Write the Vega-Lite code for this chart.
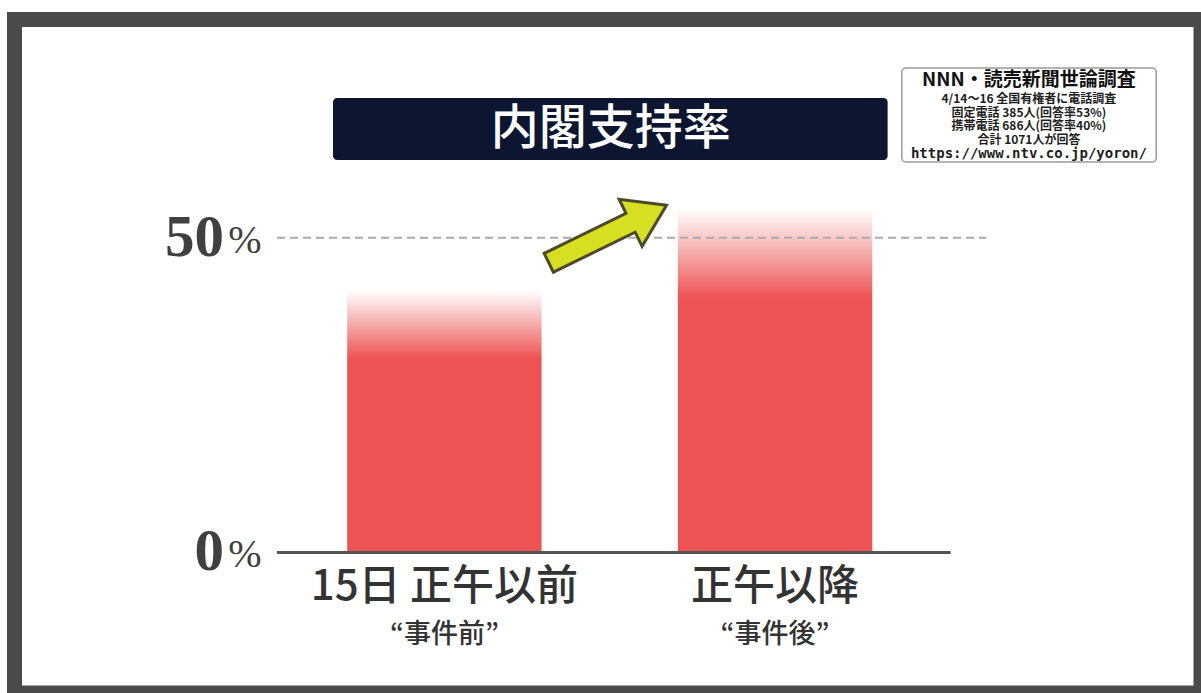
{
  "$schema": "https://vega.github.io/schema/vega-lite/v6.json",
  "autosize": {"type": "none"},
  "padding": {"left": 14.5, "top": 19.5, "right": 0, "bottom": 0},
  "width": 1186.5,
  "height": 673.5,
  "background": "#ffffff",
  "config": {
    "view": {"stroke": "#4a4a4a", "strokeWidth": 15, "fill": "#ffffff"},
    "text": {"font": "Noto Sans CJK JP"}
  },
  "datasets": {
    "poll": [
      {"period": "15日 正午以前", "note": "“事件前”", "rate": 41.7},
      {"period": "正午以降", "note": "“事件後”", "rate": 54.7}
    ],
    "ticks": [
      {"v": 0, "n": "0"},
      {"v": 50, "n": "50"}
    ],
    "span": [
      {"from": "15日 正午以前", "to": "正午以降"}
    ]
  },
  "layer": [
    {
      "data": {"name": "poll"},
      "mark": {
        "type": "bar",
        "color": {
          "gradient": "linear",
          "x1": 0, "y1": 0, "x2": 0, "y2": 1,
          "stops": [
            {"offset": 0, "color": "#ffffff"},
            {"offset": 0.05, "color": "#fbe1e0"},
            {"offset": 0.15, "color": "#f49e9d"},
            {"offset": 0.26, "color": "#ee5353"},
            {"offset": 1, "color": "#ee5353"}
          ]
        }
      },
      "encoding": {
        "x": {
          "field": "period",
          "type": "nominal",
          "sort": null,
          "scale": {
            "domain": ["15日 正午以前", "正午以降"],
            "paddingInner": 0.4123,
            "paddingOuter": 1.0315,
            "align": 0.503
          },
          "axis": {
            "orient": "bottom",
            "offset": -140.5,
            "title": null,
            "domain": false,
            "ticks": false,
            "grid": false,
            "labelAngle": 0,
            "labelPadding": 14,
            "labelLimit": 0,
            "labelFont": "Noto Sans CJK JP",
            "labelFontSize": 42,
            "labelFontWeight": 500,
            "labelColor": "#333333"
          }
        },
        "y": {
          "field": "rate",
          "type": "quantitative",
          "scale": {"domain": [-22.32, 84.66], "nice": false, "zero": false},
          "axis": null
        }
      }
    },
    {
      "data": {"name": "span"},
      "mark": {"type": "rule", "color": "#aaaaaa", "strokeWidth": 2, "strokeDash": [8, 5]},
      "encoding": {
        "x": {"field": "from", "type": "nominal", "bandPosition": -0.361},
        "x2": {"field": "to", "bandPosition": 1.586},
        "y": {"datum": 50}
      }
    },
    {
      "data": {"name": "span"},
      "mark": {"type": "rule", "color": "#555555", "strokeWidth": 3},
      "encoding": {
        "x": {"field": "from", "type": "nominal", "bandPosition": -0.361},
        "x2": {"field": "to", "bandPosition": 1.403},
        "y": {"datum": 0}
      }
    },
    {
      "data": {"name": "span"},
      "mark": {"type": "rect", "color": "#0c1630", "cornerRadius": 4},
      "encoding": {
        "x": {"field": "from", "type": "nominal", "bandPosition": -0.073},
        "x2": {"field": "to", "bandPosition": 1.079},
        "y": {"datum": 72.19},
        "y2": {"datum": 62.34}
      }
    },
    {
      "data": {"values": [{"from": "15日 正午以前", "t": "内閣支持率"}]},
      "mark": {"type": "text", "color": "#ffffff", "fontSize": 48, "fontWeight": 500, "align": "center", "baseline": "middle"},
      "encoding": {
        "x": {"field": "from", "type": "nominal", "bandPosition": 1.356},
        "y": {"datum": 67.1},
        "text": {"field": "t"}
      }
    },
    {
      "data": {"values": [{"at": "正午以降"}]},
      "mark": {"type": "rect", "fill": "#ffffff", "stroke": "#9a9a9a", "strokeWidth": 1.5, "cornerRadius": 4},
      "encoding": {
        "x": {"field": "at", "type": "nominal", "bandPosition": 1.152},
        "x2": {"field": "at", "bandPosition": 2.461},
        "y": {"datum": 76.95},
        "y2": {"datum": 62.03}
      }
    },
    {
      "data": {"values": [{"at": "正午以降", "t": "NNN・読売新聞世論調査"}]},
      "mark": {"type": "text", "color": "#111111", "fontSize": 19, "fontWeight": "bold", "align": "center", "baseline": "middle"},
      "encoding": {
        "x": {"field": "at", "type": "nominal", "bandPosition": 1.806},
        "y": {"datum": 75.1},
        "text": {"field": "t"}
      }
    },
    {
      "data": {"values": [{"at": "正午以降", "t": "4/14〜16  全国有権者に電話調査\n固定電話  385人(回答率53%)\n携帯電話  686人(回答率40%)\n合計    1071人が回答"}]},
      "mark": {"type": "text", "color": "#1e1e1e", "fontSize": 12, "fontWeight": "bold", "lineBreak": "\n", "lineHeight": 13.5, "align": "center", "baseline": "middle"},
      "encoding": {
        "x": {"field": "at", "type": "nominal", "bandPosition": 1.806},
        "y": {"datum": 72.0},
        "text": {"field": "t"}
      }
    },
    {
      "data": {"values": [{"at": "正午以降", "t": "https://www.ntv.co.jp/yoron/"}]},
      "mark": {"type": "text", "color": "#1e1e1e", "font": "DejaVu Sans Mono", "fontSize": 14, "fontWeight": "bold", "align": "center", "baseline": "middle"},
      "encoding": {
        "x": {"field": "at", "type": "nominal", "bandPosition": 1.806},
        "y": {"datum": 63.3},
        "text": {"field": "t"}
      }
    },
    {
      "data": {"values": [{"at": "15日 正午以前"}]},
      "mark": {
        "type": "point",
        "shape": "M -1 -0.16 L 0.39 -0.16 L 0.39 -0.4 L 1 0 L 0.39 0.4 L 0.39 0.16 L -1 0.16 Z",
        "size": 17161,
        "angle": 334,
        "filled": true,
        "fill": "#d6e021",
        "fillOpacity": 1,
        "stroke": "#4b4b2a",
        "strokeWidth": 3,
        "opacity": 1
      },
      "encoding": {
        "x": {"field": "at", "type": "nominal", "bandPosition": 1.34},
        "y": {"datum": 50.59}
      }
    },
    {
      "data": {"name": "ticks"},
      "mark": {"type": "text", "font": "Liberation Serif", "fontSize": 59, "fontWeight": "bold", "color": "#404040", "align": "right", "baseline": "middle"},
      "encoding": {
        "x": {"datum": "15日 正午以前", "type": "nominal", "bandPosition": -0.634},
        "y": {"field": "v", "type": "quantitative"},
        "text": {"field": "n"}
      }
    },
    {
      "data": {"name": "ticks"},
      "mark": {"type": "text", "font": "Liberation Serif", "fontSize": 40, "color": "#404040", "align": "right", "baseline": "middle", "dy": 3},
      "encoding": {
        "x": {"datum": "15日 正午以前", "type": "nominal", "bandPosition": -0.44},
        "y": {"field": "v", "type": "quantitative"},
        "text": {"value": "%"}
      }
    },
    {
      "data": {"name": "poll"},
      "mark": {"type": "text", "fontSize": 27, "fontWeight": 500, "color": "#333333", "align": "center", "baseline": "middle"},
      "encoding": {
        "x": {"field": "period", "type": "nominal"},
        "y": {"datum": -13.1},
        "text": {"field": "note"}
      }
    }
  ]
}
